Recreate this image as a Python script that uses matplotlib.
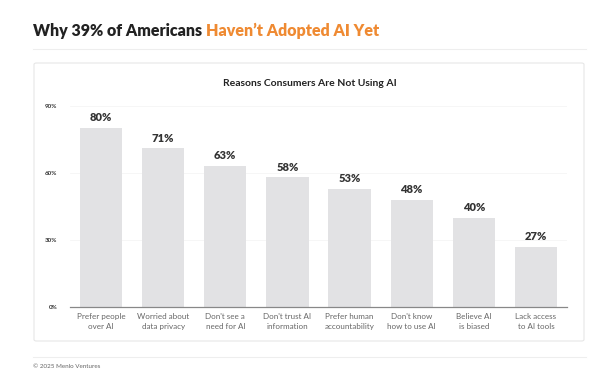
import matplotlib.pyplot as plt
from matplotlib.patches import FancyBboxPatch
from matplotlib.lines import Line2D

categories = [
    "Prefer people\nover AI",
    "Worried about\ndata privacy",
    "Don't see a\nneed for AI",
    "Don't trust AI\ninformation",
    "Prefer human\naccountability",
    "Don't know\nhow to use AI",
    "Believe AI\nis biased",
    "Lack access\nto AI tools",
]
values = [80, 71, 63, 58, 53, 48, 40, 27]
yticks = [0, 30, 60, 90]

FONT = ["Lato", "DejaVu Sans"]
plt.rcParams["font.family"] = FONT

fig = plt.figure(figsize=(6, 3.79), dpi=100, facecolor="white")

# title, two colours
TY = 1 - 31 / 379
t = fig.text(33 / 600, TY, "Why 39% of Americans ", fontsize=11.5, fontweight="heavy",
             color="#222222", ha="left", va="center")
fig.canvas.draw()
bb = t.get_window_extent()
fig.text(bb.x1 / 600, TY, "Haven\u2019t Adopted AI Yet", fontsize=11.5,
         fontweight="heavy", color="#ef8a32", ha="left", va="center")

fig.add_artist(Line2D([33 / 600, 586 / 600], [1 - 49 / 379] * 2, color="#eeeeee", lw=0.8))
fig.add_artist(Line2D([33 / 600, 586 / 600], [1 - 357 / 379] * 2, color="#eeeeee", lw=0.8))

card = FancyBboxPatch((34 / 600, 1 - 341 / 379), 550 / 600, 278 / 379,
                      boxstyle="round,pad=0,rounding_size=0.004", transform=fig.transFigure,
                      facecolor="white", edgecolor="#e6e6e6", lw=0.8, zorder=-5)
fig.add_artist(card)

fig.text(310 / 600, 1 - 84 / 379, "Reasons Consumers Are Not Using AI", fontsize=7.5,
         fontweight="bold", color="#222222", ha="center", va="center")

fig.text(33 / 600, 1 - 367 / 379, "\u00a9 2025 Menlo Ventures", fontsize=4.5,
         color="#666666", ha="left", va="center")

ax = fig.add_axes([70 / 600, 1 - 307 / 379, 497 / 600, 201 / 379], zorder=2)
ax.set_facecolor("none")
x = range(len(categories))
bars = ax.bar(x, values, width=0.68, color="#e2e2e4", zorder=2)
ax.set_xlim(-0.5, 7.5)
ax.set_ylim(0, 90)
ax.set_yticks(yticks)
ax.set_yticklabels([f"{v}%" for v in yticks], fontsize=4.5, fontweight="bold", color="#333333")
ax.set_xticks(list(x))
ax.set_xticklabels(categories, fontsize=5.8, color="#666666", linespacing=1.5)
ax.tick_params(axis="both", length=0)
ax.tick_params(axis="y", pad=9)
ax.tick_params(axis="x", pad=4)
for s in ["top", "right", "left"]:
    ax.spines[s].set_visible(False)
ax.spines["bottom"].set_color("#888888")
ax.spines["bottom"].set_linewidth(0.9)
ax.spines["bottom"].set_zorder(3)
for v in yticks[1:]:
    ax.axhline(v, color="#f5f5f5", lw=0.6, zorder=1)
for b, v in zip(bars, values):
    ax.annotate(f"{v}%", (b.get_x() + b.get_width() / 2, v), xytext=(0, 3.5),
                textcoords="offset points", ha="center", va="bottom", fontsize=8,
                fontweight="heavy", color="#333333")

fig.savefig("out.png", dpi=100, facecolor="white")
